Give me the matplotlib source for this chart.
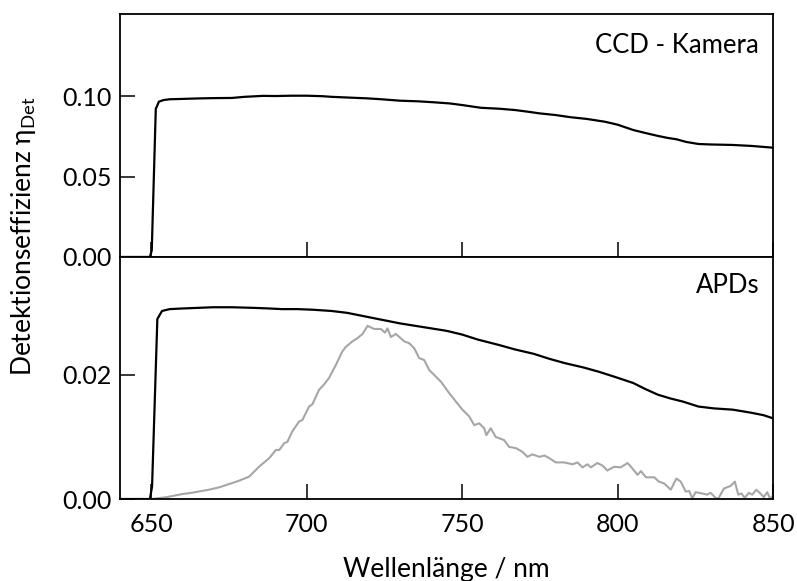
import matplotlib
matplotlib.use('Agg')
import matplotlib.pyplot as plt

# Data (wavelength in nm, detection efficiency)

ccd_nm = [640, 649.6, 650.2, 651.5, 652.5, 654, 656, 660, 665, 670, 676, 680, 686, 690,
		695, 700, 705, 708, 714, 719, 724, 730, 736, 741, 746, 750, 756, 762, 767,
		771, 775, 780, 785, 790, 796, 800, 805, 809, 813, 816, 819, 822, 826, 830,
		837, 843, 850]
ccd_eta = [0, 0, 0.004, 0.092, 0.0965, 0.0975, 0.098, 0.0982, 0.0985, 0.0987, 0.0988,
		0.0995, 0.1001, 0.1000, 0.1002, 0.1002, 0.0999, 0.0995, 0.0990, 0.0986,
		0.0980, 0.0971, 0.0967, 0.0961, 0.0954, 0.0944, 0.0927, 0.0921, 0.0913,
		0.0903, 0.0892, 0.0882, 0.0868, 0.0858, 0.0840, 0.0822, 0.0789, 0.0770,
		0.0752, 0.0740, 0.0731, 0.0715, 0.0702, 0.0699, 0.0696, 0.0690, 0.0679]

apd_nm = [640, 649.6, 650.3, 652, 653.5, 656, 660, 665, 670, 676, 683, 688, 692, 697,
		702, 708, 713, 719, 724, 730, 735, 740, 745, 750, 755, 762, 767, 773, 778,
		783, 789, 794, 799, 805, 809, 813, 817, 821, 826, 831, 837, 843, 847, 850]
apd_eta = [0, 0, 0.002, 0.029, 0.0303, 0.0306, 0.0307, 0.0308, 0.0309, 0.0309,
		0.0308, 0.0307, 0.0306, 0.0306, 0.0305, 0.0303, 0.0300, 0.0294, 0.0289,
		0.0283, 0.0279, 0.0275, 0.0271, 0.0265, 0.0257, 0.0248, 0.0241, 0.0234,
		0.0226, 0.0219, 0.0212, 0.0205, 0.0197, 0.0187, 0.0177, 0.0168, 0.0162,
		0.0157, 0.0149, 0.0146, 0.0144, 0.0139, 0.0135, 0.0130]

# Emission spectrum (grey), scaled into the APD panel

spec_nm = [650, 655, 660, 663, 668.6, 672, 675, 678, 681.5, 684.7, 688, 690.1, 691.2,
		692.8, 693.8, 695.4, 697.6, 698.6, 700.8, 701.9, 704, 705.5, 707.2, 709.4,
		711.5, 712.6, 714.7, 716.3, 718, 719.6, 721.7, 723.9, 725.2, 726, 727.1,
		728.7, 731.4, 733, 734.6, 736.2, 737.8, 739.4, 741, 743.2, 745.8, 748,
		750.1, 752.3, 753.9, 755.5, 757.1, 757.8, 759.2, 760.8, 763.5, 765.1,
		767.3, 769.4, 771, 772.6, 774.8, 776.5, 778, 780.1, 782.8, 785.5, 787.1,
		788.7, 790.3, 791.4, 793.5, 795.1, 796.7, 798.9, 801, 803.2, 804.8, 806.4,
		807.5, 809.1, 811.8, 813.3, 815, 817.1, 818.9, 820.3, 821.9, 823, 824,
		825.1, 827.2, 828.8, 829.9, 831.5, 832.3, 834.2, 836.3, 837.7, 838.8,
		839.8, 840.9, 842.2, 843.3, 844.6, 845.9, 847, 848.1, 849.1, 850]
spec_val = [0, 0.0003, 0.0008, 0.0010, 0.0015, 0.0019, 0.0024, 0.0029, 0.0036, 0.0052,
		0.0066, 0.0079, 0.0079, 0.0090, 0.0092, 0.0109, 0.0125, 0.0127, 0.0149,
		0.0153, 0.0176, 0.0184, 0.0195, 0.0216, 0.0238, 0.0245, 0.0254, 0.0259,
		0.0266, 0.0279, 0.0274, 0.0274, 0.0268, 0.0275, 0.0261, 0.0266, 0.0254,
		0.0251, 0.0243, 0.0227, 0.0224, 0.0208, 0.0200, 0.0189, 0.0171, 0.0157,
		0.0144, 0.0133, 0.0119, 0.0122, 0.0114, 0.0103, 0.0114, 0.0100, 0.0095,
		0.0084, 0.0082, 0.0076, 0.0068, 0.0072, 0.0068, 0.0070, 0.0066, 0.0059,
		0.0059, 0.0056, 0.0059, 0.0051, 0.0056, 0.0051, 0.0058, 0.0054, 0.0046,
		0.0052, 0.0051, 0.0058, 0.0049, 0.0039, 0.0045, 0.0035, 0.0035, 0.0028,
		0.0025, 0.0015, 0.0033, 0.0028, 0.0012, 0.0013, 0.0001, 0.0011, 0.0009,
		0.0007, 0.0010, 0.0002, 0.0, 0.0017, 0.0021, 0.0028, 0.0007, 0.0009,
		0.0002, 0.0010, 0.0007, 0.0015, 0.0009, 0.0003, 0.0011, 0.0, 0.0006]

x_ticks = [650, 700, 750, 800, 850]
ccd_ticks = [0.00, 0.05, 0.10]
apd_ticks = [0.00, 0.02]

def main():

#	Figure and the two stacked panels

	plt.rcParams['font.family'] = ['Lato', 'DejaVu Sans']
	fig = plt.figure(figsize=(7.97, 5.81), dpi=100)
	axTop = fig.add_axes([0.1506, 0.5577, 0.8194, 0.4183])
	axBot = fig.add_axes([0.1506, 0.1411, 0.8194, 0.4166])

#	Curves

	axTop.plot(ccd_nm, ccd_eta, color='black', lw=1.6)
	axBot.plot(spec_nm, spec_val, color='#a6a6a6', lw=1.5)
	axBot.plot(apd_nm, apd_eta, color='black', lw=1.6)

#	Axes styling

	for ax in (axTop, axBot):
		ax.set_xlim(640, 850)
		ax.set_xticks(x_ticks)
		for s in ax.spines.values():
			s.set_linewidth(1.3)
		ax.tick_params(direction='in', length=11, width=1.1, labelsize=18)
		ax.tick_params(axis='y', pad=6)
		ax.tick_params(axis='x', pad=10)

	axTop.set_ylim(0, 0.151)
	axTop.set_yticks(ccd_ticks)
	axTop.set_yticklabels(['%.2f' % v for v in ccd_ticks])
	axTop.tick_params(axis='x', labelbottom=False)

	axBot.set_ylim(0, 0.039)
	axBot.set_yticks(apd_ticks)
	axBot.set_yticklabels(['%.2f' % v for v in apd_ticks])

#	Panel captions and axis labels

	axTop.text(0.9786, 0.8395, 'CCD - Kamera', transform=axTop.transAxes,
			ha='right', va='baseline', fontsize=18.5)
	axBot.text(0.9786, 0.850, 'APDs', transform=axBot.transAxes,
			ha='right', va='baseline', fontsize=18.5)

	fig.text(0.560, 0.0069, 'Wellenlänge / nm', ha='center', va='baseline', fontsize=19)
	fig.text(0.030, 0.593, 'Detektionseffizienz η$_\\mathregular{Det}$', rotation=90,
			ha='center', va='center', fontsize=19)

	fig.savefig('out.png', dpi=100)

if __name__ == '__main__': main()
